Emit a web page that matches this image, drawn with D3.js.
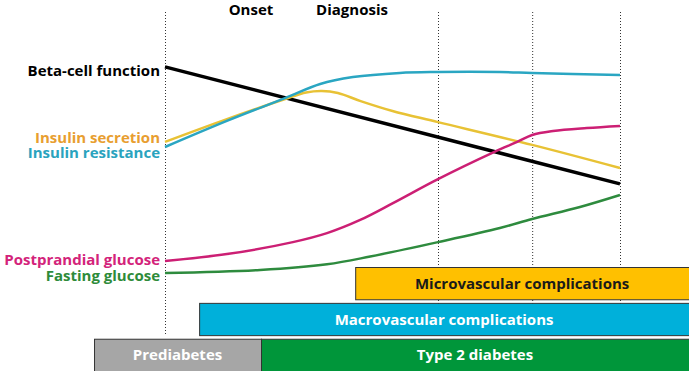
<!DOCTYPE html>
<meta charset="utf-8">
<style>
body { margin: 0; background: #fff; }
svg { display: block; }
text { font-family: "Open Sans", Lato, sans-serif; font-weight: bold; }
.guides line { stroke: #333; stroke-width: 1px; stroke-dasharray: 1,2; }
.bars rect { stroke: #333; stroke-width: 1px; }
</style>
<svg width="689" height="371"></svg>
<script src="https://d3js.org/d3.v7.min.js"></script>
<script>

// time runs 0..100 across the plot, level 0..100 bottom to top
var betaT = [0, 100],
    betaV = [77.7, 38.7];

var resistT = [0, 13.6, 26.4, 34.1, 41.3, 51.6, 59.8, 73.6, 80.7, 100],
    resistV = [51, 59.7, 67.3, 72, 74.3, 75.7, 76, 76, 75.7, 75];

var secretT = [0, 13.6, 26.4, 31, 34.5, 38, 43, 50, 60, 80.7, 100],
    secretV = [52.7, 60.3, 67, 69.2, 69.7, 69, 66.3, 63, 59.3, 51.7, 44];

var ppT = [0, 13.6, 28.1, 35.6, 42.9, 50.1, 60, 72.3, 77.4, 80.7, 85.3, 92.7, 100],
    ppV = [13, 15.3, 19.3, 22.3, 26.7, 32.3, 40.3, 49.3, 52.7, 55, 56.3, 57.3, 58];

var fastT = [0, 20.9, 35.6, 45.1, 60, 73.6, 80.7, 91.2, 100],
    fastV = [9, 10, 11.9, 14.5, 19.3, 24, 27, 31, 35];

var guideT = [0, 60, 80.7, 100];

var eventNames = ["Onset", "Diagnosis"],
    eventT = [18.9, 41.1];

var seriesNames = ["Beta-cell function", "Insulin secretion", "Insulin resistance", "Postprandial glucose", "Fasting glucose"],
    seriesColors = ["#000000", "#e8c235", "#2aa6c2", "#cc1f74", "#2e8b3e"],
    labelColors = ["#000000", "#e89e30", "#2aa3be", "#d3237a", "#2e8b3a"],
    labelV = [74.7, 52.3, 47.3, 11.7, 6.3];

var barNames = ["Microvascular complications", "Macrovascular complications", "Prediabetes", "Type 2 diabetes"],
    barRows = ["micro", "macro", "stage", "stage"],
    barStart = [41.8, 7.5, -15.6, 21.1],
    barEnd = [115.2, 115.2, 21.1, 115.2],
    barFill = ["#ffc000", "#00b0da", "#a6a6a6", "#00963a"],
    barText = ["#1a1a1a", "#ffffff", "#ffffff", "#ffffff"];

var svg = d3.select("svg");

var x = d3.scaleLinear().domain([0, 100]).range([165, 620]);
var y = d3.scaleLinear().domain([0, 100]).range([300, 0]);
var row = d3.scaleBand().domain(["micro", "macro", "stage"]).range([267, 371]).paddingInner(0.1);

// dotted guides
svg.append("g").attr("class", "guides")
  .selectAll("line")
  .data(guideT)
  .enter().append("line")
    .attr("x1", function(d) { return x(d) + 0.5; })
    .attr("x2", function(d) { return x(d) + 0.5; })
    .attr("y1", 12)
    .attr("y2", 334);

svg.append("g")
  .selectAll("text")
  .data(eventNames)
  .enter().append("text")
    .attr("x", function(d, i) { return x(eventT[i]); })
    .attr("y", 15)
    .attr("text-anchor", "middle")
    .style("font-size", "15px")
    .text(function(d) { return d; });

// curves
var series = [
  d3.zip(betaT, betaV),
  d3.zip(secretT, secretV),
  d3.zip(resistT, resistV),
  d3.zip(ppT, ppV),
  d3.zip(fastT, fastV)
];

var line = d3.line()
    .x(function(d) { return x(d[0]); })
    .y(function(d) { return y(d[1]); })
    .curve(d3.curveCatmullRom.alpha(0.5));

svg.append("g")
  .selectAll("path")
  .data(series)
  .enter().append("path")
    .attr("d", line)
    .attr("fill", "none")
    .attr("stroke", function(d, i) { return seriesColors[i]; })
    .attr("stroke-width", function(d, i) { return i == 0 ? 3.5 : 2.5; });

svg.append("g")
  .selectAll("text")
  .data(seriesNames)
  .enter().append("text")
    .attr("x", 160)
    .attr("y", function(d, i) { return y(labelV[i]); })
    .attr("text-anchor", "end")
    .attr("fill", function(d, i) { return labelColors[i]; })
    .style("font-size", "15px")
    .text(function(d) { return d; });

// stage bars
var bars = svg.append("g").attr("class", "bars")
  .selectAll("g")
  .data(barNames)
  .enter().append("g");

bars.append("rect")
    .attr("x", function(d, i) { return x(barStart[i]) + 0.5; })
    .attr("y", function(d, i) { return row(barRows[i]) + 0.5; })
    .attr("width", function(d, i) { return x(barEnd[i]) - x(barStart[i]); })
    .attr("height", row.bandwidth())
    .attr("fill", function(d, i) { return barFill[i]; });

bars.append("text")
    .attr("x", function(d, i) { return (x(barStart[i]) + Math.min(x(barEnd[i]), 689)) / 2; })
    .attr("y", function(d, i) { return row(barRows[i]) + row.bandwidth() / 2 + 5.5; })
    .attr("text-anchor", "middle")
    .attr("fill", function(d, i) { return barText[i]; })
    .style("font-size", "15px")
    .text(function(d) { return d; });

</script>
